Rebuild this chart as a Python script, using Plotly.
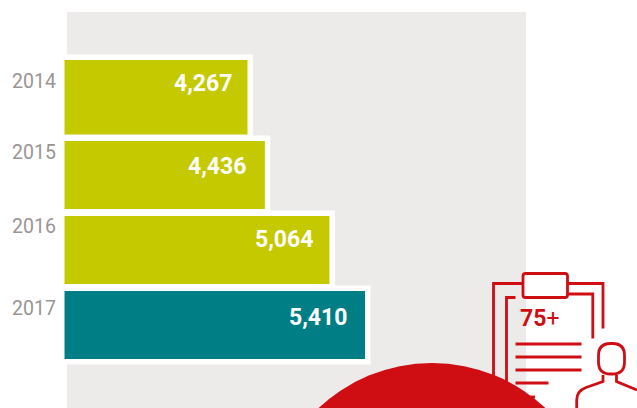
import plotly.graph_objects as go

W, H = 637, 408

years = [2014, 2015, 2016, 2017]
values = [4267, 4436, 5064, 5410]
value_labels = ['4,267', '4,436', '5,064', '5,410']
bar_colors = ['#c5c900', '#c5c900', '#c5c900', '#007e85']

# the bars are not evenly placed in the original, first one is taller
bar_widths = [0.993, 0.907, 0.907, 0.907]
bar_offsets = [-0.533, -0.453, -0.453, -0.453]
year_shift = [19, 23, 24, 17]
label_shift = [17, 9, 11, 8]
label_pad = [13.5, 17, 14.5, 16]

GRAY = '#ecebe9'
RED = '#cf0e14'


def px(x):
    return x / W


def py(y):
    return 1 - y / H


def pt(x, y):
    return f'{px(x):.5f},{py(y):.5f}'


def line(x0, y0, x1, y1):
    return dict(type='line', xref='paper', yref='paper', x0=px(x0), y0=py(y0), x1=px(x1), y1=py(y1),
                line=dict(color=RED, width=2.8), layer='above')


def poly(points):
    # open path in pixel coords, converted to paper
    d = 'M ' + ' L '.join(pt(x, y) for x, y in points)
    return dict(type='path', xref='paper', yref='paper', path=d, line=dict(color=RED, width=2.8), layer='above')


def rounded(x0, y0, x1, y1, rx, ry, fill='rgba(0,0,0,0)'):
    d = (f'M {pt(x0 + rx, y0)} L {pt(x1 - rx, y0)} Q {pt(x1, y0)} {pt(x1, y0 + ry)} '
         f'L {pt(x1, y1 - ry)} Q {pt(x1, y1)} {pt(x1 - rx, y1)} '
         f'L {pt(x0 + rx, y1)} Q {pt(x0, y1)} {pt(x0, y1 - ry)} '
         f'L {pt(x0, y0 + ry)} Q {pt(x0, y0)} {pt(x0 + rx, y0)} Z')
    return dict(type='path', xref='paper', yref='paper', path=d, fillcolor=fill,
                line=dict(color=RED, width=2.8), layer='above')


shoulder = (f'M {pt(603, 375)} L {pt(603, 381.5)} L {pt(586, 387.5)} '
            f'Q {pt(576.7, 391)} {pt(576.7, 400)} L {pt(576.7, 410)}')

fig = go.Figure()

# white frame around the bars
fig.add_bar(y=years, x=values, orientation='h', width=bar_widths, offset=bar_offsets,
            marker=dict(color='white', line=dict(color='white', width=11)), hoverinfo='skip')
fig.add_bar(y=years, x=values, orientation='h', width=bar_widths, offset=bar_offsets,
            marker=dict(color=bar_colors, line=dict(width=0)), hoverinfo='skip')

shapes = [
    dict(type='rect', xref='paper', yref='paper', x0=px(67), x1=px(526), y0=py(12), y1=py(H + 5),
         fillcolor=GRAY, line=dict(width=0), layer='below'),
    # clipboard
    poly([(522.5, 283.5), (493.5, 283.5), (493.5, 380)]),
    poly([(567.5, 283.5), (603, 283.5), (603, 328.5)]),
    poly([(515.5, 297.5), (506.5, 297.5), (506.5, 390)]),
    poly([(567.5, 294), (592.8, 294), (592.8, 338.5)]),
    rounded(523, 273.5, 567.5, 297.5, 2.5, 2.5, fill='white'),
    line(515.5, 344, 581.5, 344),
    line(515.5, 357, 581.5, 357),
    line(515.5, 370, 581.5, 370),
    line(515.5, 383, 548.5, 383),
    line(515.5, 397, 535, 397),
    # person
    rounded(598.5, 343.5, 624.5, 374, 12, 12),
    dict(type='path', xref='paper', yref='paper', path=shoulder, line=dict(color=RED, width=2.8), layer='above'),
    poly([(616.5, 375), (616.5, 381.5), (637, 390)]),
    # big red circle
    dict(type='circle', xref='paper', yref='paper', x0=px(266.5), x1=px(597.5), y0=py(363), y1=py(694),
         fillcolor=RED, line=dict(width=0), layer='above'),
]

annotations = []
for i, year in enumerate(years):
    annotations.append(dict(x=px(58), xref='paper', xanchor='right', y=year, yref='y', yshift=year_shift[i],
                            text=str(year), showarrow=False,
                            font=dict(family='Roboto', size=19.5, color='#9a9494')))
    annotations.append(dict(x=values[i], xref='x', xanchor='right', xshift=-label_pad[i], y=year, yref='y',
                            yshift=label_shift[i], text=f'<b>{value_labels[i]}</b>', showarrow=False,
                            font=dict(family='Roboto', size=23, color='white')))
annotations.append(dict(x=px(518), xref='paper', xanchor='left', y=py(318.5), yref='paper', yanchor='middle',
                        text='<b>75</b>+', showarrow=False, font=dict(family='Roboto', size=23, color=RED)))

fig.update_layout(
    width=W,
    height=H,
    margin=dict(l=0, r=0, t=0, b=0),
    barmode='overlay',
    showlegend=False,
    paper_bgcolor='white',
    plot_bgcolor='rgba(0,0,0,0)',
    shapes=shapes,
    annotations=annotations,
    xaxis=dict(domain=[px(64.5), 1], range=[2487, 8056], visible=False),
    yaxis=dict(range=[2015 + 233 / 75, 2015 - 175 / 75], visible=False),
)

# page margin would push the chart 8px off
fig.write_html('out.html', config={'displayModeBar': False},
               post_script="document.body.style.margin='0';document.documentElement.style.overflow='hidden';")
